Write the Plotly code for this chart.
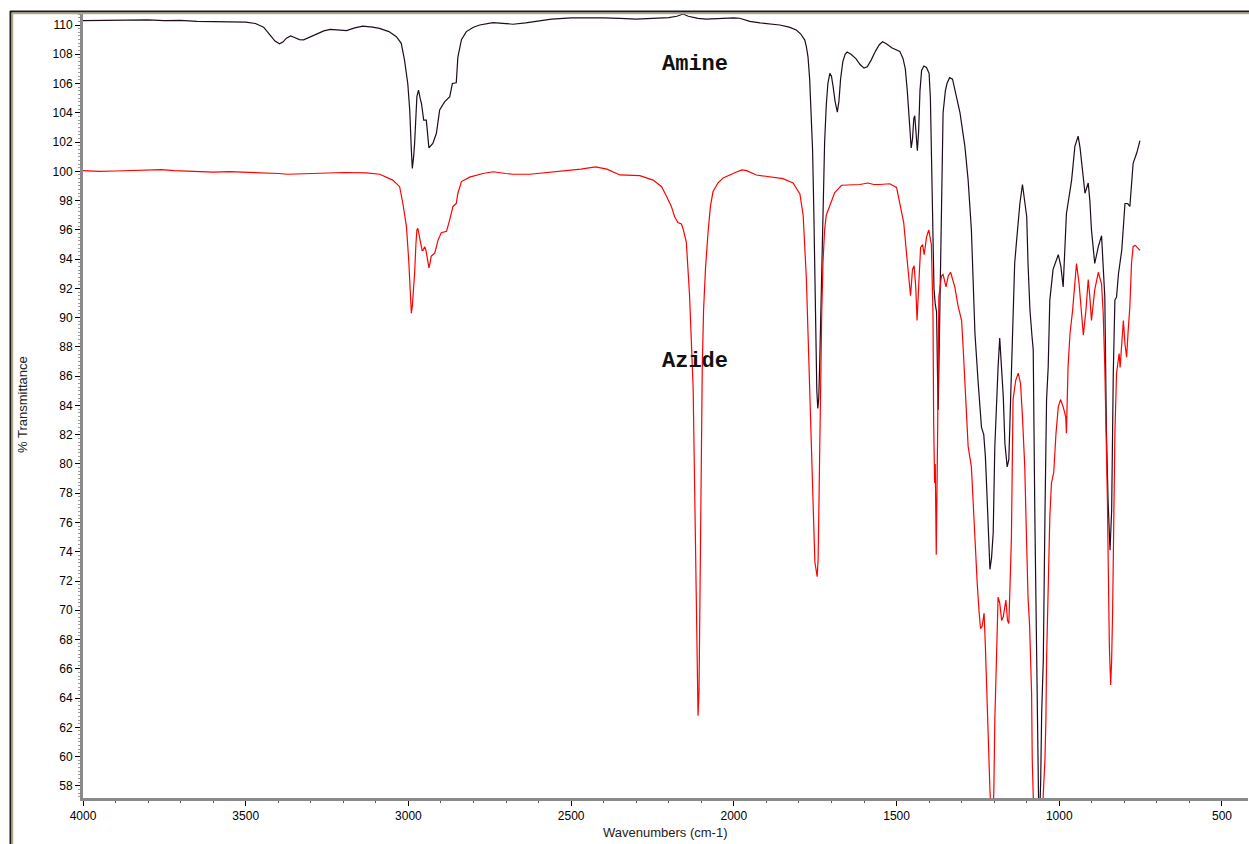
import plotly.graph_objects as go

# ---------------- data ----------------
amine_wn = [4000, 3950, 3900, 3850, 3800, 3750, 3700, 3650, 3600, 3550, 3500, 3470, 3445, 3425, 3410, 3396,
            3385, 3375, 3362, 3350, 3335, 3322, 3305, 3285, 3260, 3240, 3210, 3190, 3165, 3140, 3110, 3089,
            3060, 3037, 3022, 3012, 3002, 2996, 2991, 2988, 2984, 2981, 2974, 2969, 2964, 2960, 2953, 2945,
            2937, 2931, 2925, 2914, 2904, 2889, 2873, 2865, 2853, 2848, 2837, 2822, 2800, 2781, 2740, 2700,
            2679, 2640, 2600, 2560, 2500, 2450, 2400, 2350, 2300, 2250, 2200, 2175, 2156, 2140, 2110, 2084,
            2040, 2000, 1982, 1951, 1920, 1890, 1859, 1830, 1808, 1795, 1782, 1777, 1772, 1767, 1763, 1758,
            1754, 1751, 1748, 1745, 1742, 1739, 1736, 1733, 1729, 1725, 1721, 1716, 1711, 1705, 1700, 1695,
            1689, 1682, 1677, 1672, 1665, 1658, 1652, 1640, 1625, 1612, 1600, 1590, 1578, 1565, 1553, 1543,
            1530, 1515, 1500, 1490, 1480, 1473, 1467, 1461, 1455, 1451, 1447, 1444, 1440, 1436, 1432, 1428,
            1423, 1416, 1408, 1400, 1396, 1392, 1388, 1385, 1381, 1377, 1374, 1372, 1369, 1365, 1361, 1357,
            1350, 1345, 1337, 1328, 1316, 1305, 1290, 1280, 1270, 1265, 1259, 1249, 1239, 1232, 1227, 1223,
            1219, 1213, 1208, 1203, 1198, 1193, 1188, 1183, 1177, 1172, 1167, 1160, 1155, 1152, 1147, 1142,
            1137, 1131, 1121, 1113, 1106, 1100, 1096, 1090, 1084, 1080, 1075, 1072, 1068, 1066, 1063, 1060,
            1057, 1054, 1049, 1044, 1039, 1034, 1029, 1019, 1003, 995, 988, 978, 962, 952, 942, 936,
            931, 921, 911, 906, 901, 891, 880, 870, 860, 855, 850, 844, 839, 834, 829, 824,
            818, 808, 798, 790, 783, 773, 762, 752]
amine_t = [110.30, 110.32, 110.30, 110.33, 110.35, 110.30, 110.32, 110.25, 110.22, 110.22, 110.20, 110.10, 109.85, 109.30, 108.90, 108.72,
           108.85, 109.10, 109.25, 109.15, 109.00, 108.98, 109.15, 109.40, 109.60, 109.70, 109.65, 109.62, 109.80, 109.92, 109.85, 109.77,
           109.55, 109.20, 108.75, 107.60, 106.00, 104.20, 101.45, 100.20, 101.00, 101.90, 105.10, 105.55, 105.00, 104.65, 103.50, 103.50,
           101.60, 101.75, 101.90, 102.60, 104.20, 104.75, 105.10, 106.00, 106.05, 107.80, 109.00, 109.55, 109.85, 110.00, 110.16, 110.10,
           110.05, 110.15, 110.30, 110.40, 110.48, 110.50, 110.48, 110.45, 110.40, 110.45, 110.50, 110.60, 110.75, 110.60, 110.45, 110.40,
           110.45, 110.48, 110.46, 110.25, 110.15, 110.10, 110.00, 109.85, 109.66, 109.40, 108.97, 108.50, 107.80, 106.30, 104.00, 101.45,
           97.00, 92.00, 88.00, 85.00, 83.80, 84.50, 87.00, 90.50, 95.00, 99.00, 102.00, 104.50, 106.00, 106.70, 106.50, 105.80,
           104.80, 104.05, 104.80, 106.30, 107.50, 108.00, 108.15, 108.00, 107.70, 107.30, 107.05, 107.15, 107.60, 108.20, 108.65, 108.85,
           108.70, 108.45, 108.30, 108.20, 107.70, 107.00, 105.50, 103.50, 101.60, 102.20, 103.60, 103.80, 102.50, 101.40, 102.80, 105.50,
           106.90, 107.20, 107.10, 106.70, 105.00, 100.50, 96.00, 92.00, 90.90, 90.40, 86.00, 83.70, 87.70, 94.00, 99.50, 104.00,
           105.50, 106.00, 106.40, 106.30, 105.10, 104.00, 101.70, 99.40, 96.00, 92.60, 88.90, 85.50, 82.50, 82.00, 80.50, 78.40,
           76.40, 72.80, 73.60, 75.30, 81.20, 84.40, 86.60, 88.60, 86.60, 84.60, 81.40, 79.80, 80.30, 82.50, 86.00, 91.20,
           93.70, 95.30, 97.80, 99.10, 98.00, 96.90, 93.70, 90.50, 88.80, 87.80, 76.40, 70.70, 63.00, 58.80, 56.00, 56.00,
           58.40, 63.00, 66.60, 76.40, 84.40, 86.60, 91.20, 93.30, 94.30, 93.50, 92.10, 97.10, 99.40, 101.70, 102.40, 101.60,
           100.55, 98.50, 99.20, 98.00, 96.00, 93.70, 94.85, 95.60, 91.40, 82.10, 77.50, 74.10, 76.80, 86.20, 91.20, 91.40,
           93.00, 94.60, 97.80, 97.80, 97.60, 100.55, 101.25, 102.10]

azide_wn = [4000, 3950, 3900, 3850, 3800, 3760, 3720, 3680, 3640, 3600, 3550, 3500, 3450, 3400, 3370, 3340,
            3300, 3242, 3200, 3129, 3088, 3048, 3027, 3017, 3006, 2999, 2994, 2991, 2988, 2984, 2981, 2977,
            2974, 2971, 2967, 2963, 2958, 2955, 2950, 2946, 2943, 2937, 2933, 2930, 2919, 2909, 2899, 2883,
            2873, 2863, 2853, 2848, 2837, 2812, 2771, 2740, 2700, 2679, 2627, 2580, 2520, 2470, 2425, 2390,
            2350, 2320, 2289, 2248, 2222, 2207, 2192, 2182, 2172, 2161, 2155, 2146, 2136, 2130, 2125, 2122,
            2118, 2115, 2112, 2110, 2107, 2105, 2102, 2100, 2097, 2093, 2087, 2079, 2072, 2064, 2049, 2033,
            2010, 1992, 1975, 1961, 1931, 1890, 1849, 1818, 1797, 1787, 1782, 1777, 1772, 1767, 1761, 1756,
            1751, 1744, 1741, 1738, 1734, 1730, 1726, 1721, 1716, 1705, 1690, 1669, 1644, 1613, 1588, 1570,
            1552, 1521, 1500, 1490, 1478, 1470, 1461, 1457, 1451, 1446, 1441, 1437, 1431, 1426, 1420, 1415,
            1408, 1401, 1393, 1388, 1386, 1383, 1381, 1378, 1374, 1370, 1362, 1357, 1348, 1341, 1334, 1321,
            1311, 1305, 1300, 1295, 1290, 1285, 1280, 1270, 1265, 1259, 1252, 1246, 1242, 1237, 1231, 1227,
            1223, 1219, 1213, 1208, 1204, 1201, 1198, 1193, 1188, 1183, 1177, 1172, 1164, 1159, 1155, 1152,
            1147, 1142, 1134, 1126, 1119, 1113, 1106, 1101, 1096, 1091, 1085, 1083, 1079, 1050, 1049, 1044,
            1041, 1039, 1034, 1031, 1029, 1024, 1017, 1010, 1003, 996, 988, 980, 978, 973, 967, 959,
            952, 947, 939, 931, 926, 918, 911, 906, 901, 891, 880, 870, 865, 860, 855, 852,
            849, 846, 842, 839, 836, 834, 832, 829, 824, 816, 813, 808, 803, 798, 793, 788,
            783, 778, 773, 767, 760, 752]
azide_t = [100.05, 100.00, 100.02, 100.05, 100.08, 100.12, 100.05, 100.00, 99.98, 99.95, 99.98, 99.95, 99.90, 99.85, 99.80, 99.82,
           99.85, 99.90, 99.92, 99.90, 99.80, 99.40, 98.95, 97.80, 96.20, 93.90, 91.50, 90.30, 90.80, 92.00, 93.00, 95.00,
           96.00, 96.10, 95.60, 95.10, 94.60, 94.60, 94.85, 94.60, 94.20, 93.40, 93.80, 94.20, 94.40, 95.30, 95.80, 95.90,
           96.70, 97.60, 97.80, 98.50, 99.30, 99.60, 99.85, 99.97, 99.85, 99.80, 99.80, 99.90, 100.00, 100.15, 100.30, 100.15,
           99.75, 99.72, 99.70, 99.40, 98.95, 98.30, 97.60, 96.90, 96.50, 96.40, 96.00, 95.15, 91.50, 88.05, 85.10, 80.70,
           75.60, 69.50, 65.30, 62.80, 64.50, 69.70, 75.35, 81.40, 86.60, 90.50, 93.40, 95.90, 97.60, 98.60, 99.20, 99.55,
           99.80, 99.95, 100.10, 100.05, 99.75, 99.60, 99.50, 99.20, 98.45, 97.00, 94.55, 92.60, 88.90, 85.30, 81.15, 76.00,
           73.30, 72.30, 73.50, 78.00, 85.30, 90.20, 93.80, 96.00, 97.00, 97.70, 98.55, 99.05, 99.05, 99.10, 99.20, 99.10,
           99.10, 99.15, 98.90, 97.70, 96.50, 94.55, 92.60, 91.50, 93.30, 93.55, 92.10, 89.80, 92.60, 94.80, 95.00, 94.30,
           95.50, 96.00, 95.00, 90.20, 82.90, 78.70, 80.00, 73.80, 81.60, 91.40, 92.85, 92.95, 92.10, 92.85, 93.10, 92.10,
           90.80, 90.30, 89.80, 87.80, 85.50, 83.20, 81.20, 79.80, 77.50, 74.10, 71.80, 69.80, 68.75, 68.90, 69.80, 67.50,
           64.30, 60.90, 57.70, 55.50, 55.50, 57.70, 62.50, 66.60, 70.90, 70.50, 69.30, 69.55, 70.70, 69.30, 69.10, 71.15,
           75.00, 84.40, 85.70, 86.20, 85.50, 83.20, 79.80, 75.25, 70.90, 68.90, 64.30, 59.80, 56.50, 56.50, 57.50, 59.80,
           62.50, 66.60, 71.15, 73.00, 76.40, 78.70, 79.40, 82.10, 83.90, 84.40, 83.90, 83.20, 82.10, 86.60, 88.90, 90.50,
           92.60, 93.70, 92.30, 90.30, 88.80, 90.50, 92.60, 91.40, 89.80, 91.90, 93.10, 92.30, 90.30, 86.60, 82.10, 77.50,
           72.30, 67.50, 64.90, 66.60, 70.00, 73.20, 77.50, 82.10, 86.20, 87.55, 86.60, 88.50, 89.80, 88.20, 87.30, 89.20,
           90.75, 93.70, 94.85, 94.95, 94.80, 94.60]

x_ticks = [4000, 3500, 3000, 2500, 2000, 1500, 1000, 500]
labels = ["Amine", "Azide"]
label_wn = [2120, 2118]
label_t = [107.28, 87.0]

# ---------------- figure ----------------
W, H = 1249, 844
L, R, T, B = 83, 1, 13, 46
pw, ph = W - L - R, H - T - B


def px(xp):
    return (xp - L) / pw


def py(yp):
    return (H - B - yp) / ph


fig = go.Figure()
fig.add_trace(go.Scatter(x=amine_wn, y=amine_t, mode="lines", name=labels[0],
                         line=dict(color="#1e0c1e", width=1.2), hoverinfo="x+y"))
fig.add_trace(go.Scatter(x=azide_wn, y=azide_t, mode="lines", name=labels[1],
                         line=dict(color="#ff0000", width=1.2), hoverinfo="x+y"))

font = "Arial, Liberation Sans, sans-serif"
fig.update_layout(
    width=W, height=H, autosize=False,
    margin=dict(l=L, r=R, t=T, b=B, pad=0),
    paper_bgcolor="white", plot_bgcolor="white",
    showlegend=False,
    font=dict(family=font, size=12, color="black"),
)
fig.update_xaxes(
    range=[4000, 420], tickvals=x_ticks, ticktext=[str(v) for v in x_ticks],
    showgrid=False, zeroline=False,
    showline=True, linecolor="#8a8a8a", linewidth=3,
    ticks="outside", ticklen=5, tickwidth=1, tickcolor="black",
    minor=dict(dtick=100, ticks="outside", ticklen=2, tickcolor="#555555", tickwidth=1),
    tickfont=dict(family=font, size=12, color="black"),
)
fig.update_yaxes(
    range=[57.17, 110.82], tick0=0, dtick=2,
    showgrid=False, zeroline=False,
    showline=True, linecolor="#8a8a8a", linewidth=3,
    ticks="outside", ticklen=5, tickwidth=1, tickcolor="black",
    minor=dict(dtick=0.25, ticks="outside", ticklen=2, tickcolor="#9a9a9a", tickwidth=1),
    tickfont=dict(family=font, size=12, color="black"),
)

# axis titles
fig.add_annotation(text="Wavenumbers (cm-1)", xref="paper", yref="paper", x=px(665), y=py(832),
                   xanchor="center", yanchor="middle", showarrow=False,
                   font=dict(family=font, size=13, color="#222222"))
fig.add_annotation(text="% Transmittance", xref="paper", yref="paper", x=px(22), y=py(405),
                   xanchor="center", yanchor="middle", showarrow=False, textangle=-90,
                   font=dict(family=font, size=13, color="#222222"))

# curve labels
for lab, xw, yt in zip(labels, label_wn, label_t):
    fig.add_annotation(text="<b>%s</b>" % lab, x=xw, y=yt, xref="x", yref="y",
                       showarrow=False, xanchor="center", yanchor="middle",
                       font=dict(family="Liberation Mono, Courier New, monospace", size=22, color="#111111"))

# outer window frame (dark line + tan line) at top and left
fig.add_shape(type="line", xref="paper", yref="paper", x0=px(10), x1=px(W), y0=py(11.5), y1=py(11.5),
              line=dict(color="#1a1a1a", width=2), layer="above")
fig.add_shape(type="line", xref="paper", yref="paper", x0=px(12), x1=px(W), y0=py(13.5), y1=py(13.5),
              line=dict(color="#b3a680", width=1.5), layer="above")
fig.add_shape(type="line", xref="paper", yref="paper", x0=px(10.5), x1=px(10.5), y0=py(11), y1=py(H),
              line=dict(color="#1a1a1a", width=2), layer="above")
fig.add_shape(type="line", xref="paper", yref="paper", x0=px(12.5), x1=px(12.5), y0=py(13), y1=py(H),
              line=dict(color="#b3a680", width=1.5), layer="above")

fig.write_html("out.html")
